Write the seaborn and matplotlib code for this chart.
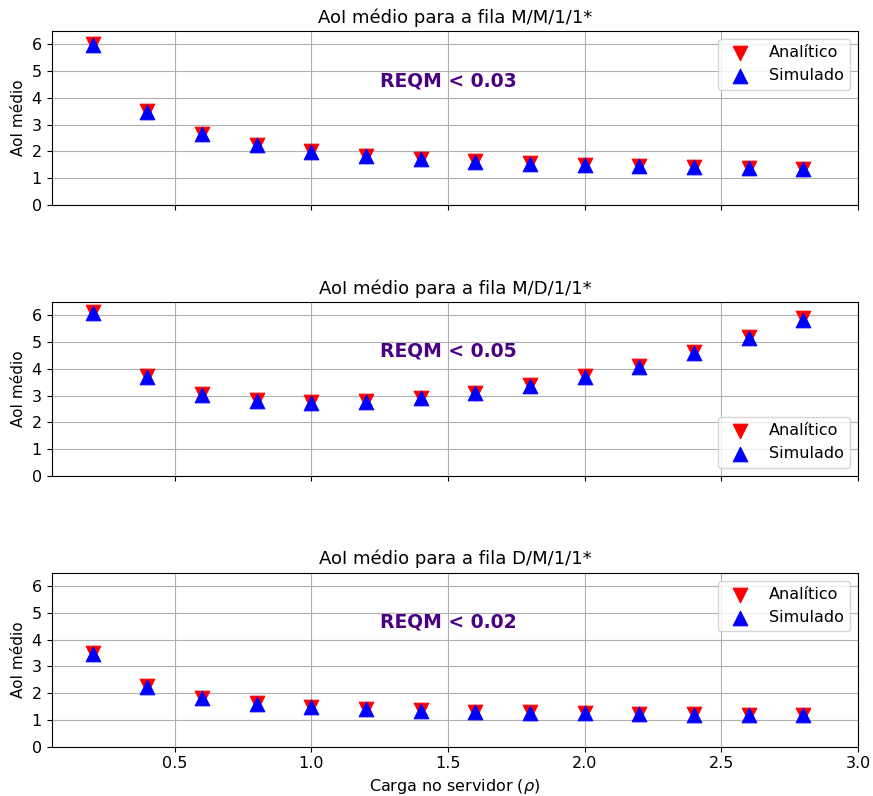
import matplotlib
matplotlib.use("Agg")
import matplotlib.pyplot as plt
import seaborn as sns
import pandas as pd

# Server load values (rho)
rho = [0.2, 0.4, 0.6, 0.8, 1.0, 1.2, 1.4, 1.6, 1.8, 2.0, 2.2, 2.4, 2.6, 2.8]

# M/M/1/1* queue
mm_analitico = [6.00, 3.50, 2.67, 2.25, 2.00, 1.83, 1.71, 1.63, 1.56, 1.50, 1.45, 1.42, 1.38, 1.36]
mm_simulado = [5.97, 3.48, 2.66, 2.23, 1.99, 1.82, 1.70, 1.62, 1.55, 1.49, 1.45, 1.41, 1.37, 1.35]

# M/D/1/1* queue
md_analitico = [6.12, 3.74, 3.05, 2.82, 2.76, 2.79, 2.91, 3.11, 3.39, 3.72, 4.11, 4.62, 5.20, 5.88]
md_simulado = [6.09, 3.71, 3.02, 2.80, 2.73, 2.76, 2.89, 3.08, 3.36, 3.69, 4.07, 4.59, 5.16, 5.84]

# D/M/1/1* queue
dm_analitico = [3.50, 2.25, 1.83, 1.63, 1.50, 1.42, 1.36, 1.31, 1.28, 1.25, 1.23, 1.21, 1.19, 1.18]
dm_simulado = [3.48, 2.23, 1.82, 1.61, 1.49, 1.41, 1.35, 1.30, 1.27, 1.24, 1.22, 1.20, 1.18, 1.17]

titulos = ["AoI médio para a fila M/M/1/1*",
           "AoI médio para a fila M/D/1/1*",
           "AoI médio para a fila D/M/1/1*"]
reqm = ["REQM < 0.03", "REQM < 0.05", "REQM < 0.02"]
legenda_loc = ["upper right", "lower right", "upper right"]

filas = [(mm_analitico, mm_simulado), (md_analitico, md_simulado), (dm_analitico, dm_simulado)]

plt.rcParams["font.family"] = ["DejaVu Sans"]

fig, axes = plt.subplots(3, 1, figsize=(8.73, 7.96), dpi=100, sharex=True, sharey=True)
fig.subplots_adjust(left=0.059, right=0.983, top=0.961, bottom=0.062, hspace=0.557)

for ax, (analitico, simulado), titulo, txt, loc in zip(axes, filas, titulos, reqm, legenda_loc):
    df = pd.DataFrame({"rho": rho, "Analítico": analitico, "Simulado": simulado})
    sns.scatterplot(data=df, x="rho", y="Analítico", ax=ax, marker="v", color="red",
                    s=110, edgecolor="red", linewidth=0.8, label="Analítico", zorder=3)
    sns.scatterplot(data=df, x="rho", y="Simulado", ax=ax, marker="^", color="blue",
                    s=110, edgecolor="blue", linewidth=0.8, label="Simulado", zorder=4)
    ax.set_title(titulo, fontsize=13)
    ax.set_ylabel("AoI médio", fontsize=11)
    ax.set_xlabel("")
    ax.grid(True, color="#b0b0b0", linewidth=0.8)
    ax.set_axisbelow(True)
    ax.tick_params(labelsize=11.5)
    ax.text(1.5, 4.65, txt, ha="center", va="center", fontsize=13.5,
            fontweight="bold", color="#4B0082")
    ax.legend(loc=loc, fontsize=11.5, markerscale=1.0)

axes[-1].set_xlabel(r"Carga no servidor ($\rho$)", fontsize=11.5)
axes[0].set_xlim(0.05, 3.0)
axes[0].set_ylim(0, 6.5)
axes[0].set_yticks([0, 1, 2, 3, 4, 5, 6])

fig.savefig("out.png", dpi=100)
